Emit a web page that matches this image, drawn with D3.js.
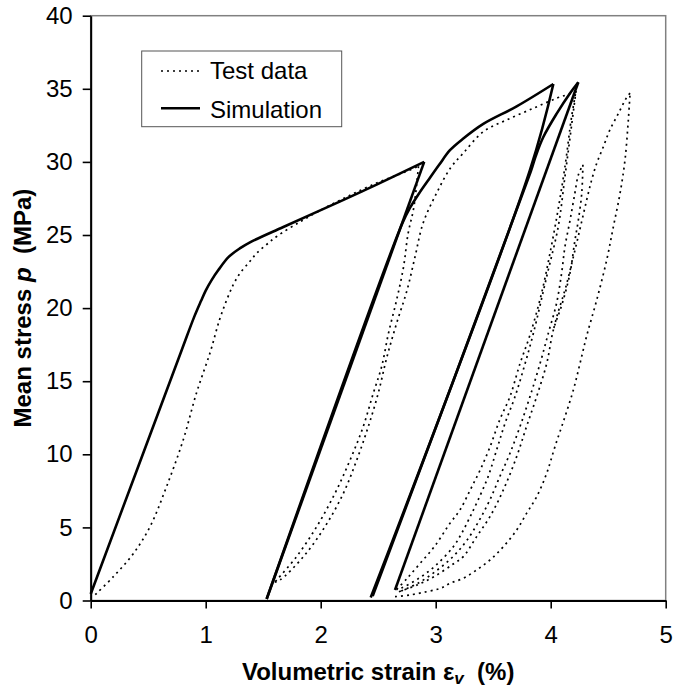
<!DOCTYPE html>
<html>
<head>
<meta charset="utf-8">
<script src="https://cdn.jsdelivr.net/npm/d3@7/dist/d3.min.js"></script>
<style>
  body { margin: 0; background: #fff; }
  text { font-family: "Liberation Sans", Arial, sans-serif; }
</style>
</head>
<body>
<div id="chart"></div>
<script>
// axis ticks
const xTicks = [0, 1, 2, 3, 4, 5]
const yTicks = [0, 5, 10, 15, 20, 25, 30, 35, 40]

// Simulation: [volumetric strain %, mean stress MPa]
const simLoad1 = [[0, 0.45], [0.79, 17.1], [0.9, 19.4], [0.96, 20.5], [1.0, 21.2], [1.05, 21.9], [1.11, 22.6],
    [1.2, 23.5], [1.3, 24.1], [1.385, 24.5], [1.675, 25.55], [2.17, 27.3], [2.5, 28.5], [2.9, 30.0]]
const simUnload1 = [[2.9, 30.0], [1.53, 0.1]]
const simReload1 = [[1.53, 0.1], [2.71, 25.8], [2.78, 26.9], [2.86, 27.9], [2.94, 28.8], [3.03, 29.8],
    [3.124, 30.8], [3.24, 31.6], [3.414, 32.6], [3.704, 33.8], [4.023, 35.33]]
const simUnload2 = [[4.023, 35.33], [3.82, 29.45], [2.435, 0.2]]
const simReload2 = [[2.452, 0.3], [3.825, 29.3], [3.87, 30.4], [3.936, 31.7], [4.052, 33.3], [4.168, 34.7], [4.24, 35.45]]
const simUnload3 = [[4.24, 35.45], [2.646, 0.72]]

// Test data
const testLoad1 = [[0.04, 0.4], [0.197, 1.63], [0.37, 3.2], [0.516, 5.05], [0.66, 7.8], [0.805, 11.0], [0.92, 14.2],
    [1.04, 17.0], [1.12, 19.2], [1.18, 20.5], [1.24, 21.6], [1.3, 22.4], [1.385, 23.2], [1.443, 23.75], [1.53, 24.35],
    [1.617, 24.9], [1.82, 25.9], [2.0, 26.7], [2.25, 27.7], [2.5, 28.6], [2.7, 29.2], [2.85, 29.7]]
const testUnload1 = [[2.85, 29.7], [2.81, 26.9], [2.76, 25.1], [2.72, 22.8], [2.66, 20.55], [2.59, 18.3], [2.53, 16.0],
    [2.457, 14.17], [2.37, 11.9], [2.255, 9.6], [2.124, 7.33], [1.965, 5.05], [1.79, 3.0], [1.617, 1.4], [1.6, 1.25]]
const testReload1 = [[1.6, 1.25], [1.646, 1.4], [1.85, 3.0], [2.037, 5.05], [2.197, 7.33], [2.313, 9.6], [2.414, 11.9],
    [2.5, 14.17], [2.574, 16.6], [2.66, 18.96], [2.75, 21.2], [2.82, 23.5], [2.89, 25.8], [3.01, 27.9], [3.13, 29.6],
    [3.24, 30.6], [3.414, 32.07], [3.617, 32.87], [3.85, 33.67], [4.05, 34.35], [4.18, 34.7], [4.22, 34.85]]
const testUnload2 = [[4.22, 34.85], [4.18, 32.4], [4.124, 29.0], [4.066, 25.6], [3.965, 22.15], [3.85, 18.3], [3.777, 16.2],
    [3.69, 13.95], [3.602, 12.1], [3.53, 10.3], [3.457, 8.5], [3.37, 6.9], [3.3, 5.74], [3.226, 4.6], [3.153, 3.68],
    [3.0, 2.4], [2.85, 1.5], [2.7, 0.85], [2.66, 0.75]]
const testReload2 = [[2.66, 0.75], [2.75, 1.5], [2.86, 2.5], [2.99, 3.7], [3.124, 5.28], [3.211, 6.19], [3.3, 7.56],
    [3.385, 8.9], [3.472, 10.5], [3.559, 12.4], [3.646, 13.95], [3.733, 16.2], [3.82, 18.16], [3.92, 21.0], [4.0, 24.0],
    [4.07, 27.0], [4.13, 30.0], [4.18, 33.0], [4.22, 34.85]]
const testReload3 = [[2.7, 0.65], [2.85, 1.2], [3.0, 2.0], [3.15, 3.0], [3.27, 4.1], [3.38, 5.5], [3.472, 6.9],
    [3.559, 8.5], [3.646, 10.07], [3.733, 11.9], [3.82, 13.95], [3.907, 16.2], [3.98, 18.3], [4.05, 20.3], [4.095, 22.4],
    [4.124, 24.2], [4.168, 26.0], [4.21, 27.85], [4.24, 29.1], [4.28, 29.8]]
const testUnload3 = [[4.28, 29.8], [4.27, 27.85], [4.24, 26.0], [4.21, 24.6], [4.168, 22.4], [4.1, 20.3], [4.023, 18.5],
    [3.965, 16.2], [3.878, 13.95], [3.79, 11.9], [3.704, 9.84], [3.588, 7.56], [3.472, 5.74], [3.356, 4.37], [3.24, 3.0],
    [3.153, 2.5], [3.0, 1.7], [2.85, 1.1], [2.68, 0.6]]
const testReload4 = [[2.646, 0.26], [2.777, 0.38], [2.92, 0.6], [3.04, 0.83], [3.124, 1.17], [3.24, 1.52], [3.356, 2.09],
    [3.472, 2.77], [3.588, 3.68], [3.704, 4.82], [3.79, 5.96], [3.878, 7.1], [3.965, 8.7], [4.037, 10.52], [4.124, 12.57],
    [4.197, 14.4], [4.255, 16.22], [4.313, 18.1], [4.4, 20.55], [4.487, 23.29], [4.545, 25.57], [4.603, 27.85],
    [4.646, 30.13], [4.675, 32.87], [4.69, 34.7]]
const testUnload4 = [[4.69, 34.7], [4.66, 34.4], [4.588, 33.3], [4.515, 32.2], [4.458, 31.04], [4.4, 29.9], [4.356, 28.76],
    [4.313, 27.4], [4.26, 25.6], [4.2, 23.6], [4.13, 21.4], [4.06, 19.6], [4.023, 18.5]]

const simSeries = [simLoad1, simUnload1, simReload1, simUnload2, simReload2, simUnload3]
const testSeries = [testLoad1, testUnload1, testReload1, testUnload2, testReload2, testReload3, testUnload3, testReload4, testUnload4]

const W = 675, H = 692
const plot = {left: 90.7, right: 665.7, top: 15.7, bottom: 600.5}

const svg = d3.select("#chart").append("svg")
    .attr("width", W)
    .attr("height", H)

const x = d3.scaleLinear().domain([0, 5]).range([plot.left, plot.right])
const y = d3.scaleLinear().domain([0, 40]).range([plot.bottom, plot.top])

// plot frame (grey top / right)
svg.append("rect")
    .attr("x", plot.left).attr("y", plot.top)
    .attr("width", plot.right - plot.left).attr("height", plot.bottom - plot.top)
    .attr("fill", "none").attr("stroke", "#808080").attr("stroke-width", 1.5)

const line = d3.line()
    .x(d => x(d[0]))
    .y(d => y(d[1]))
    .curve(d3.curveCatmullRom.alpha(0.5))

// test data (dotted)
svg.selectAll(".test")
    .data(testSeries)
    .enter()
    .append("path")
    .attr("class", "test")
    .attr("d", line)
    .attr("fill", "none")
    .attr("stroke", "#000")
    .attr("stroke-width", 1.7)
    .attr("stroke-dasharray", "2,4")

// simulation (solid)
svg.selectAll(".sim")
    .data(simSeries)
    .enter()
    .append("path")
    .attr("class", "sim")
    .attr("d", line)
    .attr("fill", "none")
    .attr("stroke", "#000")
    .attr("stroke-width", 2.6)
    .attr("stroke-linejoin", "miter")

// axes
svg.append("g")
    .attr("transform", "translate(" + plot.left + ",0)")
    .call(d3.axisLeft(y).tickValues(yTicks).tickFormat(d3.format("d"))
        .tickSize(8).tickSizeOuter(0).tickPadding(10))
svg.append("g")
    .attr("transform", "translate(0," + plot.bottom + ")")
    .call(d3.axisBottom(x).tickValues(xTicks).tickFormat(d3.format("d"))
        .tickSize(8).tickSizeOuter(0).tickPadding(17))

svg.selectAll(".domain").attr("stroke", "#000").attr("stroke-width", 2)
svg.selectAll(".tick line").attr("stroke", "#000").attr("stroke-width", 1.6)
svg.selectAll(".tick text")
    .attr("font-family", "'Liberation Sans', Arial, sans-serif")
    .attr("font-size", 24)
    .attr("fill", "#000")

// axis titles
const xTitle = svg.append("text")
    .attr("x", (plot.left + plot.right) / 2)
    .attr("y", 680)
    .attr("text-anchor", "middle")
    .attr("font-size", 24)
    .attr("font-weight", "bold")
xTitle.append("tspan").text("Volumetric strain ε")
xTitle.append("tspan").attr("font-size", 17).attr("font-style", "italic").attr("dy", 4).text("v")
xTitle.append("tspan").attr("dy", -4).text("\u00a0 (%)")

const yTitle = svg.append("text")
    .attr("transform", "translate(31," + (plot.top + plot.bottom) / 2 + ") rotate(-90)")
    .attr("text-anchor", "middle")
    .attr("font-size", 24)
    .attr("font-weight", "bold")
yTitle.append("tspan").text("Mean stress ")
yTitle.append("tspan").attr("font-style", "italic").text("p")
yTitle.append("tspan").text("\u00a0 (MPa)")

// legend
const legend = svg.append("g")
legend.append("rect")
    .attr("x", 141.7).attr("y", 51)
    .attr("width", 200).attr("height", 75.7)
    .attr("fill", "#fff").attr("stroke", "#555").attr("stroke-width", 1)

const legendItems = [
    {label: "Test data", dash: "2,4", width: 1.7, ly: 71, ty: 79},
    {label: "Simulation", dash: null, width: 2.6, ly: 108.3, ty: 118}
]
legendItems.forEach(item => {
    legend.append("line")
        .attr("x1", 161).attr("x2", 200)
        .attr("y1", item.ly).attr("y2", item.ly)
        .attr("stroke", "#000")
        .attr("stroke-width", item.width)
        .attr("stroke-dasharray", item.dash)
    legend.append("text")
        .attr("x", 210).attr("y", item.ty)
        .attr("font-size", 24)
        .text(item.label)
})
</script>
</body>
</html>
